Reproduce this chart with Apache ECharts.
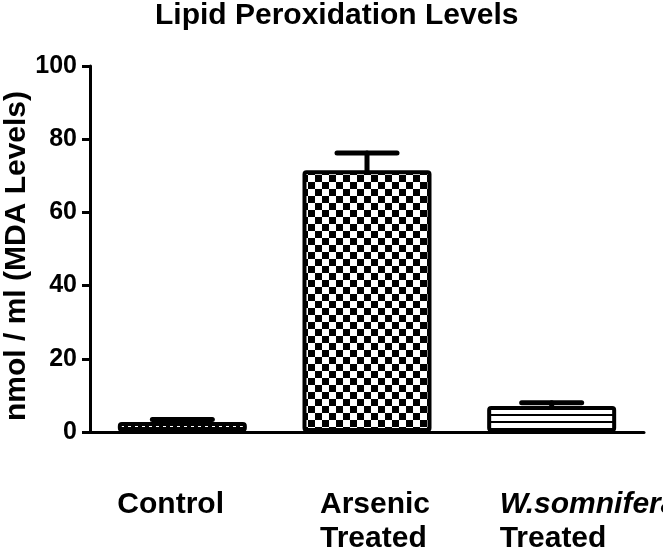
<!DOCTYPE html>
<html>
<head>
<meta charset="utf-8">
<script src="https://cdn.jsdelivr.net/npm/echarts@6/dist/echarts.min.js"></script>
<style>
  html, body { margin: 0; padding: 0; background: #fff; }
  #main { width: 663px; height: 550px; }
</style>
</head>
<body>
<div id="main"></div>
<script>
const categories = ["Control", "Arsenic Treated", "W.somnifera Treated"];
const means = [2.7, 71.5, 7.1];
const sds = [0.7, 4.7, 0.9];
const yTicks = { min: 0, max: 100, interval: 20 };

const FONT = "'Liberation Sans', Arial, sans-serif";

// fill patterns like the Prism bars
function makeTile(w, h, draw) {
  const c = document.createElement("canvas");
  c.width = w;
  c.height = h;
  const ctx = c.getContext("2d");
  draw(ctx);
  return { image: c, repeat: "repeat" };
}
const dotsFill = makeTile(7, 7, (ctx) => {
  ctx.fillStyle = "#000";
  ctx.fillRect(0, 0, 7, 7);
  ctx.fillStyle = "#fff";
  ctx.fillRect(2, 5, 3, 2);
});
const checkerFill = makeTile(14, 14, (ctx) => {
  ctx.fillStyle = "#fff";
  ctx.fillRect(0, 0, 14, 14);
  ctx.fillStyle = "#000";
  ctx.fillRect(0, 0, 7, 7);
  ctx.fillRect(7, 7, 7, 7);
});
const stripeFill = makeTile(7, 7, (ctx) => {
  ctx.fillStyle = "#fff";
  ctx.fillRect(0, 0, 7, 7);
  ctx.fillStyle = "#000";
  ctx.fillRect(0, 1, 7, 2);
});
const fills = [dotsFill, checkerFill, stripeFill];

const myChart = echarts.init(document.getElementById("main"));

const option = {
  animation: false,
  backgroundColor: "#fff",
  title: {
    text: "Lipid Peroxidation Levels",
    left: 150,
    top: -4,
    textStyle: { fontFamily: FONT, fontWeight: "bold", fontSize: 30, color: "#000" },
  },
  grid: { left: 90, right: 19, top: 66, bottom: 118, containLabel: false, outerBoundsMode: "none" },
  xAxis: {
    type: "category",
    data: categories,
    axisLine: { lineStyle: { color: "#000", width: 3 } },
    axisTick: { alignWithLabel: true, length: 8, lineStyle: { color: "#000", width: 3 } },
    axisLabel: {
      margin: 56,
      interval: 0,
      hideOverlap: false,
      formatter: function (v) {
        if (v === "Control") return "{c|Control}";
        if (v === "Arsenic Treated") return "{a|Arsenic}\n{a|Treated}";
        return "{w|W.somnifera}\n{t|Treated}";
      },
      rich: {
        c: { fontFamily: FONT, fontWeight: "bold", fontSize: 30, color: "#000", width: 130, align: "left", lineHeight: 34 },
        a: { fontFamily: FONT, fontWeight: "bold", fontSize: 30, color: "#000", width: 94, align: "left", lineHeight: 34 },
        w: { fontFamily: FONT, fontWeight: "bold", fontStyle: "italic", fontSize: 30, color: "#000", width: 104, align: "left", lineHeight: 34 },
        t: { fontFamily: FONT, fontWeight: "bold", fontSize: 30, color: "#000", width: 104, align: "left", lineHeight: 34 },
      },
    },
  },
  yAxis: {
    type: "value",
    min: yTicks.min,
    max: yTicks.max,
    interval: yTicks.interval,
    name: "nmol / ml (MDA Levels)",
    nameLocation: "middle",
    nameGap: 58,
    nameMoveOverlap: false,
    nameTextStyle: { fontFamily: FONT, fontWeight: "bold", fontSize: 30, color: "#000", padding: [0, 14, 0, 0] },
    axisLine: { show: true, lineStyle: { color: "#000", width: 3 } },
    axisTick: { show: true, length: 8, lineStyle: { color: "#000", width: 3 } },
    axisLabel: { margin: 13, fontFamily: FONT, fontWeight: "bold", fontSize: 25, color: "#000" },
    splitLine: { show: false },
  },
  series: [
    {
      type: "custom",
      z: 1,
      renderItem: function (params, api) {
        const i = api.value(0);
        const top = api.coord([i, api.value(1) + api.value(2)]);
        const base = api.coord([i, api.value(1)]);
        const style = { stroke: "#000", lineWidth: 5, lineCap: "round" };
        return {
          type: "group",
          children: [
            { type: "line", shape: { x1: base[0], y1: base[1], x2: top[0], y2: top[1] }, style: style },
            { type: "line", shape: { x1: top[0] - 30, y1: top[1], x2: top[0] + 30, y2: top[1] }, style: style },
          ],
        };
      },
      data: means.map((m, i) => [i, m, sds[i]]),
    },
    {
      type: "bar",
      z: 2,
      barWidth: 129,
      data: means.map((m, i) => ({
        value: m,
        itemStyle: { color: fills[i], borderColor: "#000", borderWidth: 4, borderRadius: 2 },
      })),
    },
  ],
};
myChart.setOption(option);
</script>
</body>
</html>
